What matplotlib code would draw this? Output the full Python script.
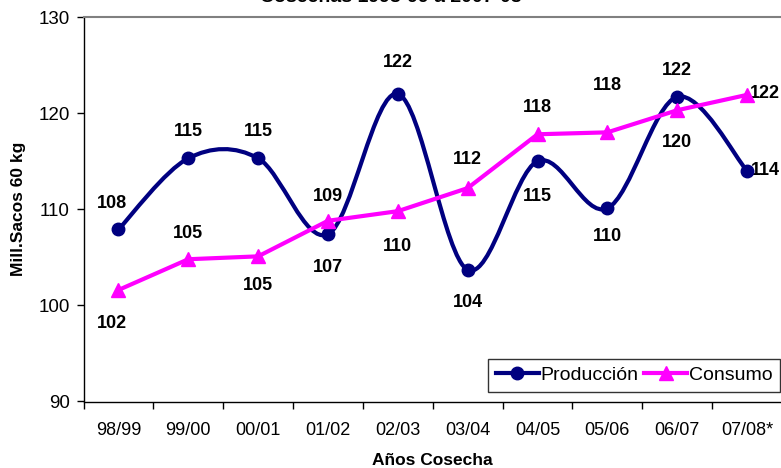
import matplotlib
matplotlib.use('Agg')
import matplotlib.pyplot as plt
from matplotlib.path import Path
from matplotlib.patches import PathPatch
from matplotlib.lines import Line2D

# data
cosechas = ['98/99', '99/00', '00/01', '01/02', '02/03', '03/04', '04/05', '05/06', '06/07', '07/08*']
produccion = [107.9, 115.3, 115.3, 107.4, 122.0, 103.7, 115.0, 110.1, 121.7, 114.0]
consumo = [101.6, 104.8, 105.1, 108.8, 109.8, 112.2, 117.8, 118.0, 120.3, 121.9]
prod_labels = ['108', '115', '115', '107', '122', '104', '115', '110', '122', '114']
cons_labels = ['102', '105', '105', '109', '110', '112', '118', '118', '120', '122']

# label offsets in pixels (dx, dy); last ones sit to the right of the point
prod_off = [(-6, 26), (0, 27), (0, 27), (0, -33), (0, 31), (0, -33), (0, -35), (0, -28), (0, 26), (4, 0)]
cons_off = [(-6, -34), (0, 26), (0, -29), (0, 24), (0, -35), (0, 29), (0, 27), (0, 47), (0, -32), (3, 1)]

navy = '#000080'
pink = '#FF00FF'

plt.rcParams['font.family'] = ['Liberation Sans', 'DejaVu Sans']

fig = plt.figure(figsize=(7.81, 4.68), dpi=100)
ax = fig.add_axes([83.5 / 781, 1 - 401.5 / 468, 698.5 / 781, 384.5 / 468])

x = list(range(len(cosechas)))

# smoothed line like the spreadsheet does it (bezier through the points)
verts = [(x[0], produccion[0])]
codes = [Path.MOVETO]
n = len(x)
for i in range(n - 1):
    p0 = (x[max(i - 1, 0)], produccion[max(i - 1, 0)])
    p1 = (x[i], produccion[i])
    p2 = (x[i + 1], produccion[i + 1])
    p3 = (x[min(i + 2, n - 1)], produccion[min(i + 2, n - 1)])
    c1 = (p1[0] + (p2[0] - p0[0]) / 6, p1[1] + (p2[1] - p0[1]) / 6)
    c2 = (p2[0] - (p3[0] - p1[0]) / 6, p2[1] - (p3[1] - p1[1]) / 6)
    verts += [c1, c2, p2]
    codes += [Path.CURVE4] * 3
ax.add_patch(PathPatch(Path(verts, codes), fill=False, edgecolor=navy, lw=3, zorder=3, clip_on=False))
ax.plot(x, produccion, 'o', color=navy, ms=9, zorder=4, clip_on=False)
ax.plot(x, consumo, '-^', color=pink, lw=3, ms=10, zorder=5, clip_on=False)

for i in range(n):
    ha = 'left' if i == n - 1 else 'center'
    ax.annotate(prod_labels[i], (x[i], produccion[i]), xytext=prod_off[i], textcoords='offset pixels',
                ha=ha, va='center', fontsize=13, fontweight='bold', annotation_clip=False)
    ax.annotate(cons_labels[i], (x[i], consumo[i]), xytext=cons_off[i], textcoords='offset pixels',
                ha=ha, va='center', fontsize=13, fontweight='bold', annotation_clip=False)

ax.set_xlim(-0.5, 9.5)
ax.set_ylim(90, 130)
ax.set_yticks([90, 100, 110, 120, 130])
ax.set_xticks(x)
ax.set_xticklabels(cosechas)
ax.set_xticks([k - 0.5 for k in range(11)], minor=True)
ax.tick_params(axis='x', which='major', length=0, labelsize=13, pad=15)
ax.tick_params(axis='x', which='minor', length=5, width=1)
ax.tick_params(axis='y', length=5, width=1, labelsize=13.5, pad=5)
ax.spines['right'].set_visible(False)
ax.spines['top'].set_color('#808080')
ax.spines['top'].set_linewidth(1.5)
ax.spines['left'].set_linewidth(1)
ax.spines['bottom'].set_linewidth(1)

ax.set_ylabel('Mill.Sacos 60 kg', fontsize=12.5, fontweight='bold', labelpad=9)
ax.set_xlabel('Años Cosecha', fontsize=12.5, fontweight='bold', labelpad=10)

# title is cut at the top edge in the original
fig.text(0.5, 1 - 2.5 / 468, 'Cosechas 1998-99 a 2007-08', ha='center', va='baseline',
         fontsize=14, fontweight='bold')

h1 = Line2D([], [], color=navy, lw=3, marker='o', ms=9)
h2 = Line2D([], [], color=pink, lw=3, marker='^', ms=10)
leg = fig.legend([h1, h2], ['Producción', 'Consumo'], loc='lower left', ncol=2, fontsize=14,
                 frameon=True, fancybox=False, edgecolor='black', handlelength=2.2,
                 columnspacing=0.3, handletextpad=0.1, borderpad=0.4, borderaxespad=0,
                 bbox_to_anchor=(488 / 781, 1 - 392 / 468))
leg.get_frame().set_linewidth(1)

fig.savefig('out.png', dpi=100)
